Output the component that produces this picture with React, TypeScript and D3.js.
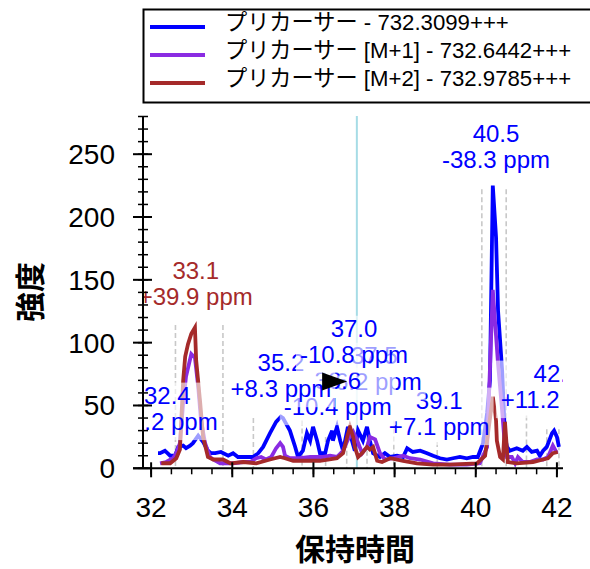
import React from "react";
import * as d3 from "d3";

// ---------- data ----------
const seriesNames = [
  "プリカーサー - 732.3099+++",
  "プリカーサー [M+1] - 732.6442+++",
  "プリカーサー [M+2] - 732.9785+++",
];
const seriesColors = ["#0000ff", "#8a2be2", "#a52a2a"];

const blueTimes = [32.17, 32.22, 32.34, 32.47, 32.59, 32.67, 32.79, 32.86, 32.96, 33.03, 33.16, 33.28, 33.4, 33.48, 33.58, 33.72, 33.9, 34.02, 34.14, 34.34, 34.51, 34.64, 34.76, 34.93, 35.08, 35.2, 35.25, 35.42, 35.55, 35.62, 35.74, 35.84, 35.92, 35.99, 36.09, 36.16, 36.29, 36.36, 36.46, 36.48, 36.58, 36.66, 36.73, 36.85, 36.95, 37.02, 37.1, 37.22, 37.32, 37.39, 37.47, 37.64, 37.76, 37.89, 38.06, 38.21, 38.31, 38.45, 38.63, 38.8, 38.95, 39.12, 39.29, 39.44, 39.61, 39.78, 39.93, 40.05, 40.18, 40.28, 40.35, 40.42, 40.5, 40.55, 40.65, 40.72, 40.77, 40.84, 41.01, 41.16, 41.26, 41.38, 41.51, 41.58, 41.66, 41.75, 41.88, 41.93, 42.0, 42.05];
const blueValues = [12, 12, 14, 10, 10, 17, 18, 16, 18, 20, 26, 21, 14, 12, 12, 13, 10, 12, 9, 9, 9, 12, 17, 28, 37, 41, 40, 30, 17, 9, 14, 28, 22, 33, 22, 12, 12, 22, 30, 22, 33, 22, 14, 33, 22, 14, 30, 22, 33, 22, 12, 9, 12, 9, 10, 9, 16, 13, 14, 12, 10, 8, 7, 8, 9, 8, 9, 9, 20, 44, 70, 225, 184, 125, 78, 25, 17, 14, 16, 14, 17, 13, 14, 10, 14, 17, 28, 30, 25, 17];

const purpleTimes = [32.22, 32.37, 32.54, 32.62, 32.71, 32.79, 32.86, 32.99, 33.08, 33.16, 33.23, 33.33, 33.45, 33.53, 33.7, 33.85, 34.02, 34.27, 34.44, 34.59, 34.71, 34.83, 34.96, 35.08, 35.18, 35.25, 35.3, 35.42, 35.67, 35.92, 36.24, 36.41, 36.58, 36.73, 36.85, 36.98, 37.07, 37.2, 37.32, 37.39, 37.52, 37.64, 37.76, 37.96, 38.21, 38.38, 38.63, 38.95, 39.36, 39.78, 40.1, 40.28, 40.42, 40.55, 40.65, 40.72, 40.77, 40.89, 40.97, 41.04, 41.16, 41.33, 41.51, 41.66, 41.78, 41.9, 42.0];
const purpleValues = [4, 5, 8, 12, 20, 52, 73, 91, 88, 65, 38, 20, 9, 7, 4, 4, 4, 5, 5, 8, 9, 7, 9, 16, 20, 17, 10, 8, 8, 9, 9, 10, 9, 14, 23, 29, 23, 12, 17, 25, 23, 12, 7, 8, 10, 8, 7, 4, 3, 3, 4, 17, 142, 83, 46, 17, 9, 9, 4, 9, 5, 5, 7, 7, 9, 18, 12];

const brownTimes = [32.25, 32.47, 32.62, 32.71, 32.79, 32.84, 32.91, 32.99, 33.08, 33.11, 33.21, 33.28, 33.4, 33.53, 33.77, 33.95, 34.27, 34.59, 34.93, 35.18, 35.3, 35.5, 35.74, 36.16, 36.58, 36.73, 36.83, 36.9, 36.98, 37.02, 37.1, 37.2, 37.32, 37.39, 37.47, 37.57, 37.69, 37.89, 38.21, 38.55, 38.95, 39.36, 40.03, 40.23, 40.42, 40.5, 40.52, 40.6, 40.67, 40.72, 40.79, 41.01, 41.41, 41.66, 41.78, 41.9, 42.02];
const brownValues = [4, 4, 8, 15, 70, 89, 99, 107, 112, 86, 52, 25, 9, 7, 7, 4, 5, 4, 7, 9, 8, 6, 6, 6, 8, 12, 25, 33, 25, 17, 9, 12, 17, 15, 17, 6, 5, 8, 6, 4, 3, 3, 4, 10, 57, 38, 22, 9, 7, 37, 5, 4, 5, 7, 8, 12, 13];

const xMajorTicks = [32, 34, 36, 38, 40, 42];
const yMajorTicks = [0, 50, 100, 150, 200, 250];

const labelTimes = [32.4, 33.1, 39.1, 42.0, 40.5, 37.5, 36.6, 35.2, 37.0];
const labelValues = [30.4, 129.6, 26.4, 47.9, 239, 62.1, 42.3, 56.6, 83.6];
const labelRT = ["32.4", "33.1", "39.1", "42.0", "40.5", "37.5", "36.6", "35.2", "37.0"];
const labelPpm = ["+2.2 ppm", "+39.9 ppm", "+7.1 ppm", "+11.2 ppm", "-38.3 ppm", "-6.2 ppm", "-10.4 ppm", "+8.3 ppm", "-10.8 ppm"];
const labelSeries = [0, 2, 0, 0, 0, 0, 0, 0, 0];

const boundaryTimes = [32.6, 33.77, 34.52, 35.72, 36.3, 36.82, 37.32, 37.98, 39.05, 40.15, 40.75, 41.25, 41.75, 42.05];
const boundaryTops = [114, 114, 40, 38, 25, 33, 33, 38, 21, 222, 222, 42, 31, 31];

const markerTime = 37.07;
const arrowTime = 36.83;
const arrowValue = 69;

// ---------- layout ----------
const W = 590;
const H = 569;
const plotLeft = 143;
const plotRight = 563;
const plotTop = 116;
const plotBottom = 468.3;
const FONT = "'Liberation Sans', Arial, 'Noto Sans CJK JP', sans-serif";

const x = d3.scaleLinear().domain([31.8, 42.15]).range([plotLeft, plotRight]);
const y = d3.scaleLinear().domain([0, 280]).range([plotBottom, plotTop + 0.5]);

function zip(t: number[], v: number[]): [number, number][] {
  return t.map((tt, i) => [tt, v[i]]);
}

const seriesData = [zip(blueTimes, blueValues), zip(purpleTimes, purpleValues), zip(brownTimes, brownValues)];

const line = d3
  .line<[number, number]>()
  .x((d) => x(d[0]))
  .y((d) => y(d[1]));

function textWidth(s: string, size: number) {
  const w: Record<string, number> = { "0": 0.556, "1": 0.556, "2": 0.556, "3": 0.556, "4": 0.556, "5": 0.556, "6": 0.556, "7": 0.556, "8": 0.556, "9": 0.556, ".": 0.278, " ": 0.278, "+": 0.584, "-": 0.333, p: 0.556, m: 0.833 };
  let t = 0;
  for (const c of s) t += w[c] ?? 0.556;
  return t * size;
}

export default function App() {
  const labelSize = 24;
  const lineGap = 26.5;
  const xMinor = d3.range(32, 42.01, 0.5);
  const yMinor = d3.range(0, 280.1, 10);

  return (
    <svg width={W} height={H} style={{ display: "block", position: "absolute", left: 0, top: 0 }} fontFamily={FONT}>
      <defs>
        <clipPath id="plotClip">
          <rect x={plotLeft} y={plotTop} width={plotRight - plotLeft} height={plotBottom - plotTop} />
        </clipPath>
      </defs>
      <rect x={0} y={0} width={W} height={H} fill="#fff" />

      <g clipPath="url(#plotClip)">
        {boundaryTimes.map((t, i) => (
          <line key={"b" + i} x1={x(t)} x2={x(t)} y1={y(boundaryTops[i])} y2={plotBottom} stroke="#c8c8c8" strokeWidth={1.6} strokeDasharray="5,3" />
        ))}
        <line x1={x(markerTime)} x2={x(markerTime)} y1={plotTop} y2={plotBottom} stroke="#a6dce6" strokeWidth={2} />
        {seriesData.map((d, i) => (
          <path key={"s" + i} d={line(d) || ""} fill="none" stroke={seriesColors[i]} strokeWidth={3.8} />
        ))}
        {labelTimes.map((t, i) => {
          const cx = x(t);
          const b2 = y(labelValues[i]);
          const b1 = b2 - lineGap;
          const w = Math.max(textWidth(labelRT[i], labelSize), textWidth(labelPpm[i], labelSize));
          return (
            <g key={"l" + i}>
              <rect x={cx - w / 2 - 4} y={b1 - 21} width={w + 8} height={b2 + 10 - (b1 - 21)} fill="#fff" opacity={0.62} />
              <text x={cx} y={b1} textAnchor="middle" fontSize={labelSize} fill={seriesColors[labelSeries[i]]}>
                {labelRT[i]}
              </text>
              <text x={cx} y={b2} textAnchor="middle" fontSize={labelSize} fill={seriesColors[labelSeries[i]]}>
                {labelPpm[i]}
              </text>
            </g>
          );
        })}
        <path
          d={`M${x(arrowTime)},${y(arrowValue)} L${x(arrowTime) - 25},${y(arrowValue) - 9} L${x(arrowTime) - 25},${y(arrowValue) + 9} Z`}
          fill="#000"
        />
      </g>

      {/* axes */}
      <line x1={plotLeft} x2={plotLeft} y1={plotTop} y2={plotBottom} stroke="#000" strokeWidth={2} />
      <line x1={plotLeft - 10} x2={plotRight} y1={plotBottom} y2={plotBottom} stroke="#000" strokeWidth={2} />
      {yMinor.map((v) => (
        <line key={"ym" + v} x1={plotLeft - 5} x2={plotLeft + 5} y1={y(v)} y2={y(v)} stroke="#000" strokeWidth={1.5} />
      ))}
      {yMajorTicks.map((v) => (
        <g key={"y" + v}>
          <line x1={plotLeft - 10} x2={plotLeft + 9} y1={y(v)} y2={y(v)} stroke="#000" strokeWidth={2} />
          <text x={115} y={y(v) + 10} textAnchor="end" fontSize={28} fill="#000">
            {v}
          </text>
        </g>
      ))}
      {xMinor.map((t) => (
        <line key={"xm" + t} x1={x(t)} x2={x(t)} y1={plotBottom} y2={plotBottom + 6} stroke="#000" strokeWidth={1.5} />
      ))}
      {xMajorTicks.map((t) => (
        <g key={"x" + t}>
          <line x1={x(t)} x2={x(t)} y1={plotBottom - 6} y2={plotBottom + 9} stroke="#000" strokeWidth={2} />
          <text x={x(t)} y={517} textAnchor="middle" fontSize={28} fill="#000">
            {t}
          </text>
        </g>
      ))}
      <text x={355} y={560} textAnchor="middle" fontSize={30} fontWeight="bold" fill="#000">
        保持時間
      </text>
      <text transform="translate(41,292) rotate(-90)" textAnchor="middle" fontSize={30} fontWeight="bold" fill="#000">
        強度
      </text>

      {/* legend */}
      <rect x={143.5} y={9.5} width={460} height={93} fill="#fff" stroke="#000" strokeWidth={2} />
      {seriesNames.map((n, i) => (
        <g key={"lg" + i}>
          <line x1={150} x2={205} y1={27 + i * 28} y2={27 + i * 28} stroke={seriesColors[i]} strokeWidth={4} />
          <text x={225} y={30 + i * 28} fontSize={22.2} fill="#000">
            {n}
          </text>
        </g>
      ))}
    </svg>
  );
}
